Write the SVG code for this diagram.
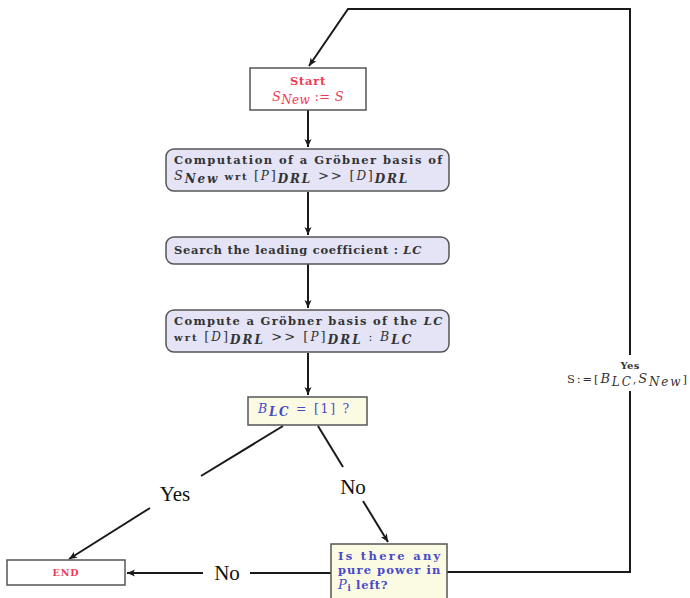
<svg xmlns="http://www.w3.org/2000/svg" width="690" height="598" viewBox="0 0 690 598">
<defs>
<marker id="arr" markerWidth="10" markerHeight="10" refX="9" refY="5" orient="auto" markerUnits="userSpaceOnUse">
<path d="M1,1.5 L9,5 L1,8.5 L3,5 Z" fill="#1a1a1a"/>
</marker>
<style>
.box{stroke:#555;stroke-width:1.5}
.plain{fill:#fff}
.proc{fill:#e4e4f6}
.dec{fill:#fbfbe4}
.t{font-family:"DejaVu Serif","Liberation Serif",serif;font-size:11.5px;font-weight:bold;fill:#333;letter-spacing:0.7px}
.m{font-style:italic}
.n{font-weight:normal}
.red{fill:#f03a55}
.blue{fill:#4a4ac8}
.lbl{font-family:"Liberation Serif","DejaVu Serif",serif;font-size:21px;fill:#111}
.edge{stroke:#1a1a1a;stroke-width:2;fill:none}
</style>
</defs>
<rect width="690" height="598" fill="#fff"/>

<g id="connectors">
<path class="edge" d="M630,560 V9 H348 L309,66" marker-end="url(#arr)"/>
<line class="edge" x1="308" y1="110" x2="308" y2="147" marker-end="url(#arr)"/>
<line class="edge" x1="308" y1="192" x2="308" y2="235" marker-end="url(#arr)"/>
<line class="edge" x1="308" y1="264" x2="308" y2="308" marker-end="url(#arr)"/>
<line class="edge" x1="308" y1="353" x2="308" y2="395" marker-end="url(#arr)"/>
<line class="edge" x1="283" y1="426" x2="201" y2="476"/>
<line class="edge" x1="150" y1="508" x2="69" y2="559" marker-end="url(#arr)"/>
<line class="edge" x1="318" y1="426" x2="343" y2="467"/>
<line class="edge" x1="363" y1="501" x2="388" y2="542" marker-end="url(#arr)"/>
<line class="edge" x1="331" y1="573" x2="250" y2="573"/>
<line class="edge" x1="203" y1="573" x2="127" y2="573" marker-end="url(#arr)"/>
<path class="edge" d="M447,572 H630 V392"/>
<rect x="560" y="355" width="130" height="36" fill="#fff"/>
<text class="t" x="630" y="369" text-anchor="middle" style="font-size:10px;letter-spacing:0.3px">Yes</text>
<text class="t n" x="567" y="383" textLength="120" lengthAdjust="spacing" style="font-size:11.5px;letter-spacing:0">S:=[<tspan class="m" style="font-size:13px">B</tspan><tspan class="m" dy="3" style="font-size:12px">LC</tspan><tspan dy="-3">,</tspan><tspan class="m" style="font-size:13px">S</tspan><tspan class="m" dy="3" style="font-size:12px">New</tspan><tspan dy="-3">]</tspan></text>
<text class="lbl" x="175" y="501" text-anchor="middle">Yes</text>
<text class="lbl" x="353" y="494" text-anchor="middle">No</text>
<text class="lbl" x="227" y="580" text-anchor="middle">No</text>
</g>

<g id="start">
<rect class="box plain" x="250" y="68" width="116" height="42"/>
<text class="t red" x="308" y="85" text-anchor="middle">Start</text>
<text class="t red n" x="308" y="101" text-anchor="middle" style="font-size:13px;letter-spacing:0.3px"><tspan class="m">S</tspan><tspan class="m" dy="3" style="font-size:12px">New</tspan><tspan dy="-3"> := </tspan><tspan class="m">S</tspan></text>
</g>

<g id="groebner1">
<rect class="box proc" x="166" y="149" width="283" height="42" rx="8"/>
<text class="t" x="174" y="164" textLength="269" lengthAdjust="spacing">Computation of a Gröbner basis of</text>
<text class="t" x="174" y="180" textLength="234" lengthAdjust="spacing"><tspan class="m n" style="font-size:13px">S</tspan><tspan class="m" dy="3" style="font-size:12px">New</tspan><tspan dy="-3" style="font-size:10px"> wrt </tspan><tspan class="n" style="font-size:13px">[</tspan><tspan class="m n" style="font-size:12px">P</tspan><tspan class="n" style="font-size:13px">]</tspan><tspan class="m" dy="3" style="font-size:12px">DRL</tspan><tspan class="n" dy="-3" style="font-size:13px"> &gt;&gt; [</tspan><tspan class="m n" style="font-size:12px">D</tspan><tspan class="n" style="font-size:13px">]</tspan><tspan class="m" dy="3" style="font-size:12px">DRL</tspan></text>
</g>

<g id="search">
<rect class="box proc" x="166" y="237" width="283" height="27" rx="8"/>
<text class="t" x="174" y="254" textLength="248" lengthAdjust="spacing">Search the leading coefficient : <tspan class="m">LC</tspan></text>
</g>

<g id="groebner2">
<rect class="box proc" x="166" y="310" width="283" height="42" rx="8"/>
<text class="t" x="174" y="325" textLength="269" lengthAdjust="spacing">Compute a Gröbner basis of the <tspan class="m">LC</tspan></text>
<text class="t" x="174" y="341" textLength="238" lengthAdjust="spacing"><tspan style="font-size:10px">wrt </tspan><tspan class="n" style="font-size:13px">[</tspan><tspan class="m n" style="font-size:12px">D</tspan><tspan class="n" style="font-size:13px">]</tspan><tspan class="m" dy="3" style="font-size:12px">DRL</tspan><tspan class="n" dy="-3" style="font-size:13px"> &gt;&gt; [</tspan><tspan class="m n" style="font-size:12px">P</tspan><tspan class="n" style="font-size:13px">]</tspan><tspan class="m" dy="3" style="font-size:12px">DRL</tspan><tspan class="n" dy="-3"> : </tspan><tspan class="m n" style="font-size:12.5px">B</tspan><tspan class="m" dy="3" style="font-size:12px">LC</tspan></text>
</g>

<g id="test">
<rect class="box dec" x="248" y="397" width="119" height="28"/>
<text class="t blue" x="258" y="413" textLength="92" lengthAdjust="spacing"><tspan class="m n" style="font-size:12.5px">B</tspan><tspan class="m" dy="3" style="font-size:12px">LC</tspan><tspan class="n" dy="-3" style="font-size:12.5px"> = [1]  ?</tspan></text>
</g>

<g id="end">
<rect class="box plain" x="7" y="560" width="118" height="25"/>
<text class="t red" x="66" y="576" text-anchor="middle" style="font-size:9.5px;letter-spacing:1px">END</text>
</g>

<g id="purepower">
<rect class="box dec" x="331" y="544" width="116" height="60"/>
<text class="t blue" x="338" y="560" textLength="103" lengthAdjust="spacing">Is there any</text>
<text class="t blue" x="338" y="574" textLength="103" lengthAdjust="spacing">pure power in</text>
<text class="t blue" x="338" y="589"><tspan class="m n" style="font-size:13px">P</tspan><tspan dy="2" style="font-size:8.5px">i</tspan><tspan dy="-2"> left?</tspan></text>
</g>
</svg>
